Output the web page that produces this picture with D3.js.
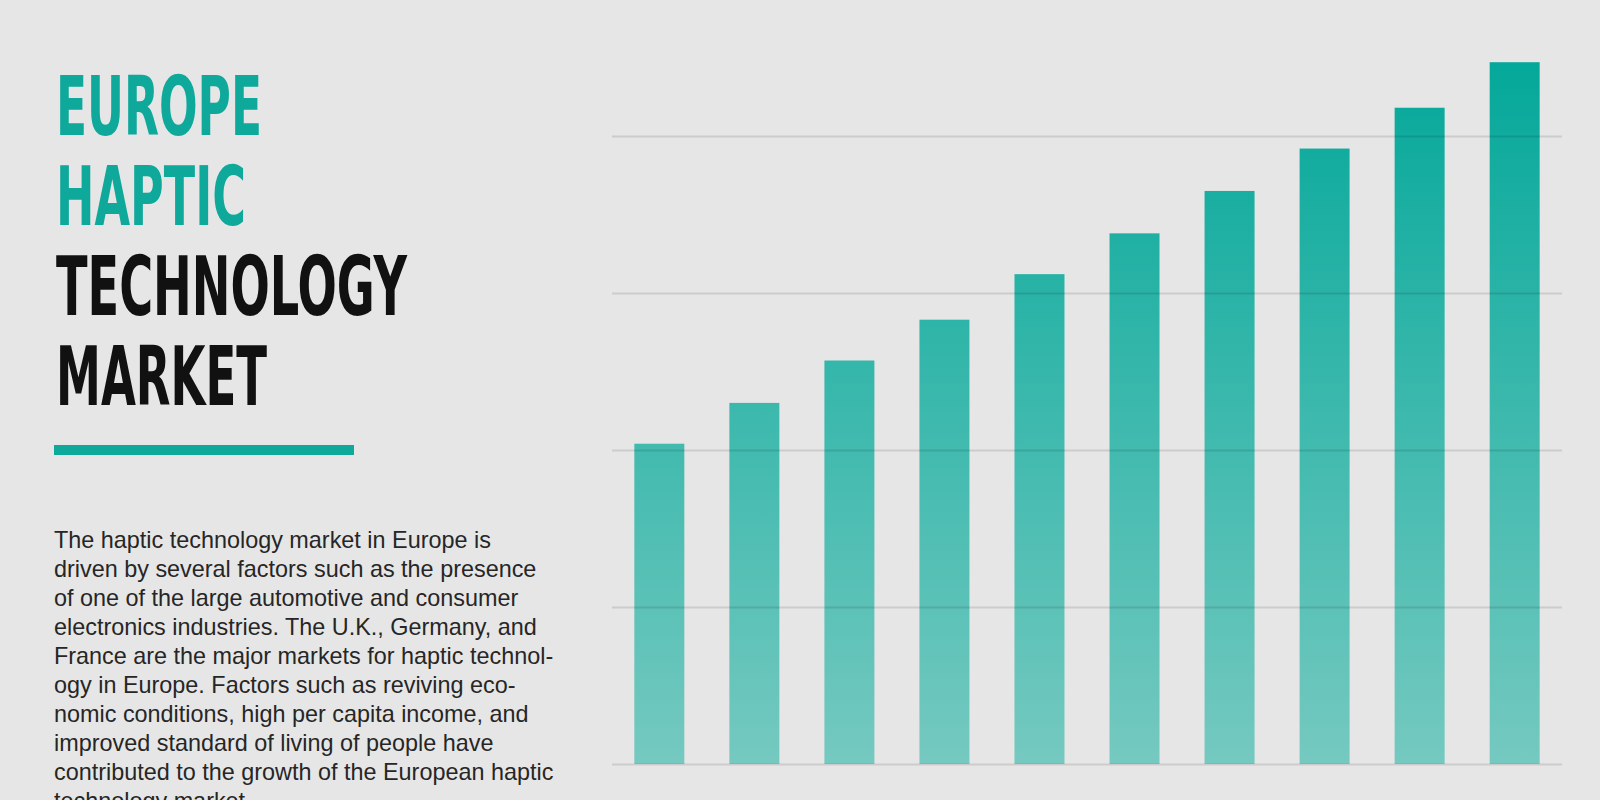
<!DOCTYPE html>
<html>
<head>
<meta charset="utf-8">
<script src="https://cdn.jsdelivr.net/npm/d3@7"></script>
<style>
  html, body { margin: 0; padding: 0; background: #e6e6e6; }
  svg { display: block; }
</style>
</head>
<body>
<div id="chart"></div>
<script>
// data (no axis labels shown, years are just keys)
const years = ["2016", "2017", "2018", "2019", "2020", "2021", "2022", "2023", "2024", "2025"];
const marketSize = [2.04, 2.30, 2.57, 2.83, 3.12, 3.38, 3.65, 3.92, 4.18, 4.47];
const gridValues = [0, 1, 2, 3, 4];

const titleLines = ["EUROPE", "HAPTIC", "TECHNOLOGY", "MARKET"];
const bodyLines = [
  "The haptic technology market in Europe is",
  "driven by several factors such as the presence",
  "of one of the large automotive and consumer",
  "electronics industries. The U.K., Germany, and",
  "France are the major markets for haptic technol-",
  "ogy in Europe. Factors such as reviving eco-",
  "nomic conditions, high per capita income, and",
  "improved standard of living of people have",
  "contributed to the growth of the European haptic",
  "technology market."
];

// layout
const W = 1600, H = 800;
const teal = "#0fa99c";
const titleWidths = [206, 190, 351, 211];

const svg = d3.select("#chart").append("svg")
  .attr("width", W)
  .attr("height", H);

svg.append("rect")
  .attr("width", W)
  .attr("height", H)
  .attr("fill", "#e6e6e6");

// Title
svg.append("g")
  .selectAll("text")
  .data(titleLines)
  .join("text")
  .attr("x", 56)
  .attr("y", (d, i) => 135 + i * 90)
  .attr("textLength", (d, i) => titleWidths[i])
  .attr("lengthAdjust", "spacingAndGlyphs")
  .attr("font-family", "'DejaVu Sans Condensed', 'Liberation Sans Narrow', 'DejaVu Sans', sans-serif")
  .attr("font-stretch", "condensed")
  .attr("font-weight", "bold")
  .attr("font-size", 82)
  .attr("fill", (d, i) => i < 2 ? teal : "#111111")
  .text(d => d);

svg.append("rect")
  .attr("x", 54)
  .attr("y", 445)
  .attr("width", 300)
  .attr("height", 10)
  .attr("fill", teal);

// Body text (last line runs off the bottom edge, as in the original)
svg.append("g")
  .selectAll("text")
  .data(bodyLines)
  .join("text")
  .attr("x", 54)
  .attr("y", (d, i) => 548 + i * 29)
  .attr("font-family", "'Liberation Sans', Arial, sans-serif")
  .attr("font-size", 23.4)
  .attr("fill", "#262626")
  .text(d => d);

// Chart
const x = d3.scaleBand()
  .domain(years)
  .range([612, 1562])
  .paddingInner(0.474)
  .paddingOuter(0.235);

const y = d3.scaleLinear()
  .domain([0, 4])
  .range([764, 136]);

const grad = svg.append("defs").append("linearGradient")
  .attr("id", "barGrad")
  .attr("gradientUnits", "userSpaceOnUse")
  .attr("x1", 0).attr("x2", 0)
  .attr("y1", y(d3.max(marketSize)))
  .attr("y2", y(0));
grad.append("stop").attr("offset", "0%").attr("stop-color", "#04a89a");
grad.append("stop").attr("offset", "100%").attr("stop-color", "#75c9c0");

svg.append("g")
  .selectAll("rect")
  .data(marketSize)
  .join("rect")
  .attr("x", (d, i) => x(years[i]))
  .attr("y", d => y(d))
  .attr("width", x.bandwidth())
  .attr("height", d => y(0) - y(d))
  .attr("fill", "url(#barGrad)");

// gridlines on top, faint so they show through the bars
const grid = svg.append("g")
  .attr("transform", "translate(612,0)")
  .call(d3.axisLeft(y)
    .tickValues(gridValues)
    .tickSize(-950)
    .tickFormat(""));
grid.select(".domain").remove();
grid.selectAll(".tick line")
  .attr("stroke", "#000")
  .attr("stroke-opacity", 0.11)
  .attr("stroke-width", 2);
</script>
</body>
</html>
